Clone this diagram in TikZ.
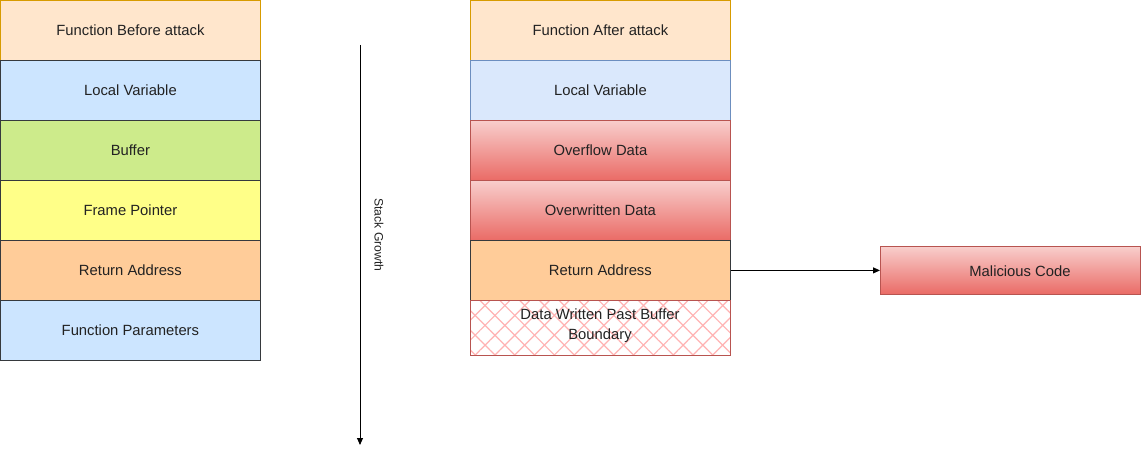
\documentclass[tikz,border=0pt]{standalone}
\usepackage{fontspec}
\setmainfont{Liberation Sans}
\usetikzlibrary{arrows.meta,patterns.meta}
\definecolor{peach}{HTML}{FFE6CC}
\definecolor{peachline}{HTML}{D79B00}
\definecolor{lblue}{HTML}{CCE5FF}
\definecolor{lblue2}{HTML}{DAE8FC}
\definecolor{blueline}{HTML}{6C8EBF}
\definecolor{dline}{HTML}{36393D}
\definecolor{lgreen}{HTML}{CDEB8B}
\definecolor{lyellow}{HTML}{FFFF88}
\definecolor{orangef}{HTML}{FFCC99}
\definecolor{redtop}{HTML}{F8CECC}
\definecolor{redbot}{HTML}{EA6B66}
\definecolor{redline}{HTML}{B85450}
\definecolor{hatch}{HTML}{FFB3B3}
\definecolor{txt}{HTML}{222222}
\tikzset{
  cell/.style={draw=dline, line width=0.8pt, minimum width=260pt, minimum height=60pt, inner sep=0pt, anchor=north west, font=\fontsize{14.8}{20}\selectfont, text=txt, align=center},
  redcell/.style={cell, draw=redline, top color=redtop, bottom color=redbot},
  conn/.style={line width=0.9pt, -{Triangle[length=7pt,width=6pt]}}
}
\begin{document}
\begin{tikzpicture}[x=1pt,y=-1pt]
\useasboundingbox (0,0) rectangle (1141,454);
% left column
\node[cell, draw=peachline, fill=peach] (fb) at (0,0) {Function Before attack};
\node[cell, fill=lblue] (lv1) at (0,60) {Local Variable};
\node[cell, fill=lgreen] (buf) at (0,120) {Buffer};
\node[cell, fill=lyellow] (fp) at (0,180) {Frame Pointer};
\node[cell, fill=orangef] (ra1) at (0,240) {Return Address};
\node[cell, fill=lblue] (par) at (0,300) {Function Parameters};
% stack growth
\coordinate (sg1) at (360,45);
\coordinate (sg2) at (360,445);
\draw[conn] (sg1) -- (sg2);
\node[rotate=-90, font=\fontsize{12.2}{14}\selectfont, text=txt] (sgl) at (379,235) {Stack Growth};
% right column
\node[cell, draw=peachline, fill=peach] (fa) at (470,0) {Function After attack};
\node[cell, draw=blueline, fill=lblue2] (lv2) at (470,60) {Local Variable};
\node[redcell] (ov) at (470,120) {Overflow Data};
\node[redcell] (ow) at (470,180) {Overwritten Data};
\node[cell, fill=orangef] (ra2) at (470,240) {Return Address};
\fill[white] (470,300) rectangle (730,355);
\node[cell, draw=redline, minimum height=55pt, pattern={Lines[angle=45,distance=14pt,line width=1.2pt]}, pattern color=hatch] (dw) at (470,300) {};
\node[cell, draw=redline, minimum height=55pt, pattern={Lines[angle=-45,distance=14pt,line width=1.2pt]}, pattern color=hatch] (dw2) at (470,300) {};
\node[font=\fontsize{14.8}{20}\selectfont, text=txt, align=center, inner sep=0pt] (dwl) at (600,326) {Data Written Past Buffer\\Boundary};
% malicious code
\node[redcell, minimum height=48pt] (mc) at (880,246) {};
\node[font=\fontsize{14.8}{20}\selectfont, text=txt, inner sep=0pt] (mcl) at (1020,271) {Malicious Code};
\draw[conn] (ra2.east) -- (mc.west);
\end{tikzpicture}
\end{document}
